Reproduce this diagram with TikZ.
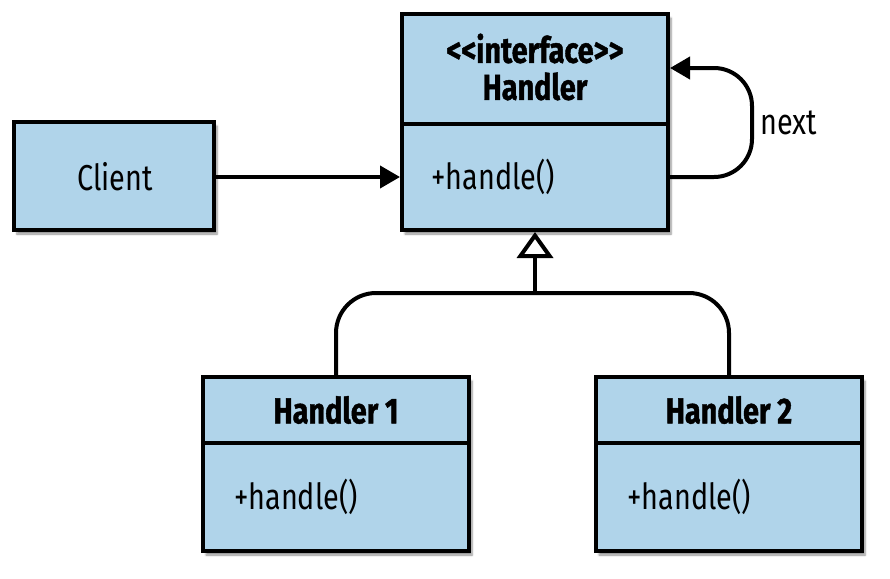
\documentclass[tikz,border=0pt]{standalone}
\usepackage{fontspec}
\setmainfont{Fira Sans}[FakeStretch=0.8, BoldFeatures={FakeBold=1.2}]
\usetikzlibrary{arrows.meta,shadows.blur}
\definecolor{boxblue}{RGB}{176,212,234}
\begin{document}
\begin{tikzpicture}[x=1pt,y=-1pt,
  box/.style={draw=black, line width=4pt, fill=boxblue, rectangle, inner sep=0pt,
    blur shadow={shadow xshift=3pt, shadow yshift=-4pt, shadow blur steps=6, shadow opacity=45}},
  divider/.style={line width=4pt},
  lbl/.style={font=\fontsize{36}{40}\selectfont, inner sep=0pt},
  blbl/.style={font=\fontsize{36}{37}\selectfont\bfseries, inner sep=0pt, align=center},
  conn/.style={line width=4pt},
]
\useasboundingbox (0,0) rectangle (890,578);
% boxes
\node[box, minimum width=266pt, minimum height=216pt] (H) at (535,122) {};
\node[box, minimum width=200pt, minimum height=108pt] (C) at (114,176) {};
\node[box, minimum width=266pt, minimum height=174pt] (H1) at (336,464) {};
\node[box, minimum width=266pt, minimum height=174pt] (H2) at (729,464) {};
% dividers
\draw[divider] (H.west |- 0,124) -- (H.east |- 0,124);
\draw[divider] (H1.west |- 0,443) -- (H1.east |- 0,443);
\draw[divider] (H2.west |- 0,443) -- (H2.east |- 0,443);
% texts
\node[lbl] (ct) at (115,177) {Client};
\node[blbl] (ht) at (535,67) {{<}{<}interface{>}{>}\\Handler};
\node[lbl, anchor=west] (hm) at (431,177) {+handle()};
\node[blbl] (h1t) at (336,410) {Handler 1};
\node[lbl, anchor=west] (h1m) at (234,497) {+handle()};
\node[blbl] (h2t) at (729,410) {Handler 2};
\node[lbl, anchor=west] (h2m) at (627,497) {+handle()};
% client -> handler
\draw[conn, -{Triangle[length=20pt, width=22pt]}] (C.east |- ct) -- (H.west |- ct);
% self loop
\coordinate (lp) at (752,0);
\draw[conn, rounded corners=38pt, -{Triangle[length=20pt, width=22pt]}]
  (H.east |- hm) -- (lp |- hm) -- (lp |- 0,68) -- (H.east |- 0,68);
\node[lbl, anchor=west] (nx) at (760,123) {next};
% inheritance
\coordinate (J) at (535,293);
\draw[conn, -{Triangle[open, length=26pt, width=36pt]}] (J) -- (H.south);
\draw[conn, rounded corners=40pt] (H1.north) |- (J) -| (H2.north);
\end{tikzpicture}
\end{document}
